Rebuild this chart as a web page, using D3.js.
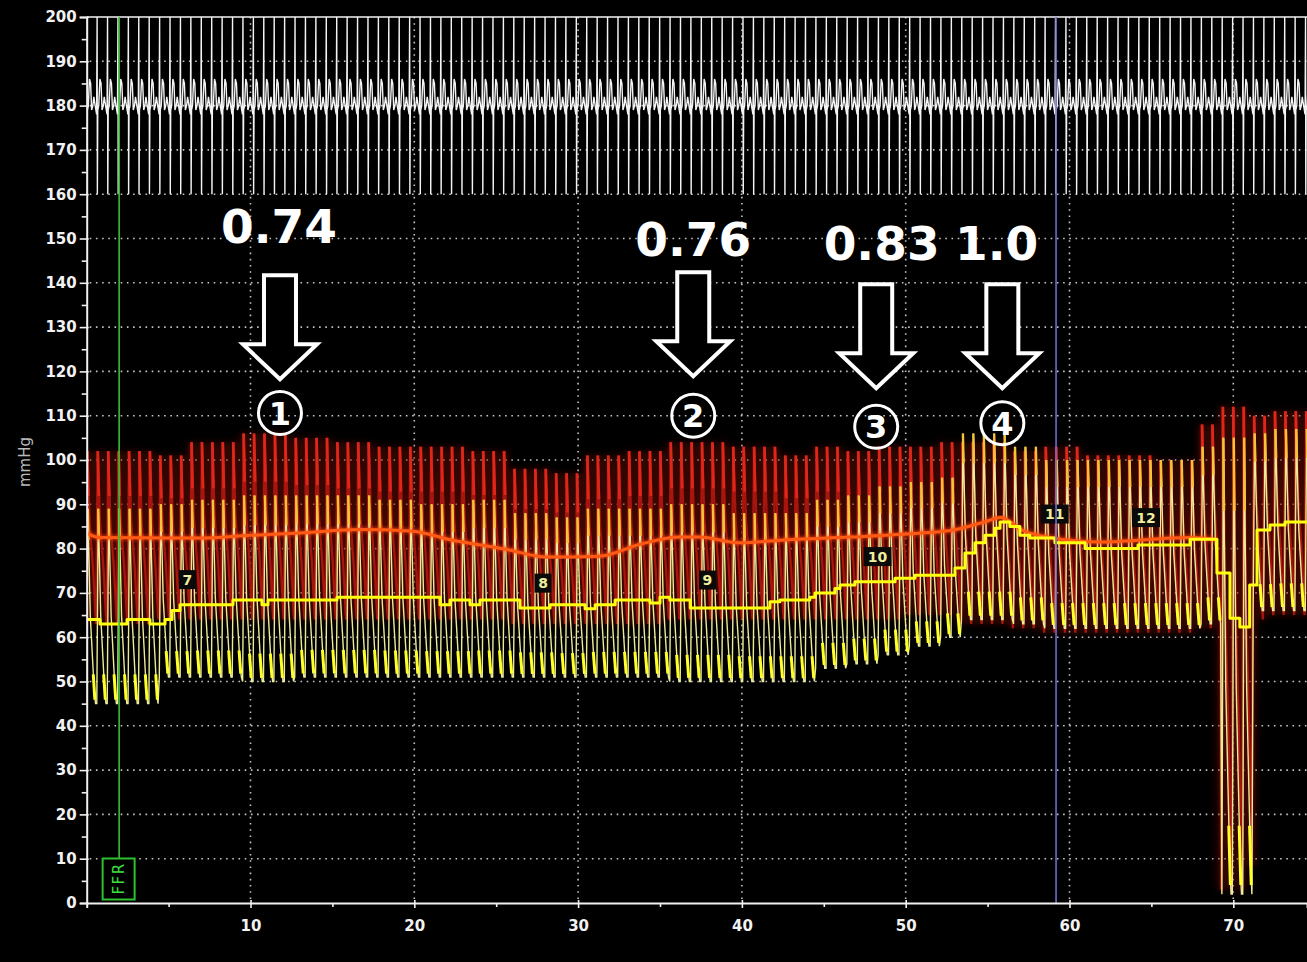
<!DOCTYPE html>
<html>
<head>
<meta charset="utf-8">
<script src="https://cdn.jsdelivr.net/npm/d3@7"></script>
<style>
  html, body { margin: 0; background: #000; }
  svg { display: block; }
</style>
</head>
<body>
<svg id="chart" width="1307" height="962"></svg>
<script>
// ---------------- recording data ----------------
// heart cycle length (s) and time of the first beat
const beatPeriod = 0.636;
const firstBeat = 0.0;

// beat-to-beat pressure levels, one value per recording segment (segment start, s)
const segStart = [0, 3.9, 6, 9.5, 12.5, 15, 17.5, 20, 23, 25.5, 28, 30.5, 33, 35, 39, 42, 44, 46, 48, 50, 52, 53.3, 56, 58, 61, 63, 65, 67.5, 68.8, 70.6, 72];
const paSys    = [102, 101, 104, 106, 105, 104, 103, 103, 102, 98, 97, 101, 102, 104, 103, 101, 103, 102, 103, 103, 104, 104, 102, 103, 101, 101, 100, 108, 112, 110, 111];
const paDia    = [63, 64, 64, 64, 64, 64, 64, 64, 64, 63, 63, 63, 63, 64, 64, 64, 64, 64, 64, 65, 65, 63, 62, 61, 61, 61, 61, 62, 3, 64, 65];
const pdSys    = [89, 90, 91, 92, 92, 92, 91, 90, 91, 88, 87, 89, 89, 90, 88, 88, 91, 92, 94, 95, 96, 106, 103, 100, 100, 100, 100, 103, 105, 106, 107];
const pdDia    = [45, 51, 51, 50, 51, 51, 51, 51, 51, 51, 51, 51, 51, 50, 50, 50, 53, 54, 56, 58, 60, 64, 63, 62, 62, 62, 62, 63, 2, 66, 66];

// mean distal pressure (Pd), stepwise
const pdMeanT = [0, 0.81, 2.46, 3.86, 4.78, 5.21, 5.70, 8.93, 10.70, 11.07, 15.28, 21.57, 22.18, 23.40, 24.01, 26.45,
                 28.29, 30.43, 31.04, 32.26, 34.39, 35.0, 35.6, 36.85, 41.71, 42.32, 44.15, 44.46, 45.68, 45.99, 46.90,
                 49.35, 50.57, 53.01, 53.62, 54.23, 54.84, 55.45, 55.76, 56.36, 56.97, 57.58, 59.11, 60.95, 64.18,
                 67.36, 69.0, 69.8, 70.4, 71.0, 71.45, 72.24, 73.16, 74.5];
const pdMean  = [64, 63, 64, 63, 64, 66, 67.3, 68.4, 67.3, 68.4, 69, 67.3, 68.4, 67.3, 68.4, 66.6,
                 67.3, 66.4, 67.3, 68.4, 67.7, 69, 68.4, 66.6, 68, 68.4, 69, 70, 71, 71.8, 72.5,
                 73.3, 74, 75.6, 79, 81.3, 83, 84.6, 86, 85, 83, 82.4, 81.3, 80, 80.8,
                 82.1, 74.5, 64.3, 62.3, 71.8, 84.2, 85.3, 86, 86];

// mean aortic pressure (Pa)
const paMeanT = [0, 0.8, 6.9, 10, 13, 16.7, 19.8, 22.2, 25.8, 28, 31.3, 33.8, 36.2, 37.4, 39.9, 42.8,
                 46.6, 50.9, 52.9, 54.8, 55.8, 57.2, 58.8, 61.9, 67.4, 69.0];
const paMean  = [83.5, 82.5, 82.4, 83, 83.5, 84.3, 84, 82, 79.7, 78.1, 78.3, 81, 82.6, 82.6, 81.3, 82,
                 82.6, 83.5, 84.2, 86, 87, 84, 82.5, 81.5, 82.5, 82];

// numbered event marks on the Pd mean trace
const eventLabels = ["7", "8", "9", "10", "11", "12"];
const eventT = [6.15, 27.86, 37.9, 48.28, 59.1, 64.67];
const eventV = [73, 72.2, 72.9, 78.2, 87.8, 87];

// FFR readings at the four pullback positions
const ffrLabels  = ["0.74", "0.76", "0.83", "1.0"];
const stepLabels = ["1", "2", "3", "4"];
const ffrT       = [11.74, 37.03, 48.53, 55.55];
const stepT      = [11.80, 37.03, 48.20, 55.90];

// cursors
const ffrCursorT = 1.98;
const endCursorT = 59.18;

// axis ticks
const yTickValues  = [0, 10, 20, 30, 40, 50, 60, 70, 80, 90, 100, 110, 120, 130, 140, 150, 160, 170, 180, 190, 200];
const yMinorValues = [5, 15, 25, 35, 45, 55, 65, 75, 85, 95, 105, 115, 125, 135, 145, 155, 165, 175, 185, 195];
const xTickValues  = [10, 20, 30, 40, 50, 60, 70];
const xMinorValues = [5, 15, 25, 35, 45, 55, 65];
const gridY = [10, 20, 30, 40, 50, 60, 70, 80, 90, 100, 110, 120, 130, 140, 150, 160, 170, 180, 190];
const gridX = [10, 20, 30, 40, 50, 60, 70];

// ---------------- drawing ----------------
const svg = d3.select("#chart");
const x = d3.scaleLinear().domain([0, 74.5]).range([86.7, 1307]);
const y = d3.scaleLinear().domain([0, 200]).range([903, 17]);
const x0 = x(0), x1 = x(74.5), yTop = y(200), yBot = y(0);

const defs = svg.append("defs");
defs.append("clipPath").attr("id", "plot")
  .append("rect").attr("x", x0).attr("y", yTop).attr("width", x1 - x0).attr("height", yBot - yTop);
defs.append("filter").attr("id", "glow").attr("x", "-5%").attr("y", "-5%").attr("width", "110%").attr("height", "110%")
  .append("feGaussianBlur").attr("stdDeviation", 1.8);
defs.append("filter").attr("id", "haze").attr("x", "-5%").attr("y", "-5%").attr("width", "110%").attr("height", "110%")
  .append("feGaussianBlur").attr("stdDeviation", 3.5);

svg.append("rect").attr("width", 1307).attr("height", 962).attr("fill", "#000");

// dotted grid
const grid = svg.append("g")
  .attr("stroke", "#e8e8e8").attr("stroke-width", 1.6)
  .attr("stroke-dasharray", "1.6 4.6").attr("opacity", 0.85);
grid.selectAll("line.gh").data(gridY).join("line").attr("class", "gh")
  .attr("x1", x0 + 3).attr("x2", x1).attr("y1", d => y(d)).attr("y2", d => y(d));
grid.selectAll("line.gv").data(gridX).join("line").attr("class", "gv")
  .attr("x1", d => x(d)).attr("x2", d => x(d)).attr("y1", yTop).attr("y2", yBot - 3);

const plot = svg.append("g").attr("clip-path", "url(#plot)");

const beatTimes = d3.range(firstBeat, 74.5 + beatPeriod, beatPeriod);
const segOf = t => Math.max(0, d3.bisectRight(segStart, t) - 1);
const line = d3.line().x(d => x(d[0])).y(d => y(d[1]));

// aortic (Pa) pulse trace
const paPts = [], paCaps = [];
beatTimes.forEach(t => {
  const i = segOf(t), s = paSys[i], d = paDia[i], a = s - d, o = t - 0.06;
  paPts.push([o, d], [o + 0.1, s], [o + 0.24, d + 0.58 * a], [o + 0.45, d + 0.32 * a], [o + 0.6, d + 0.05 * a]);
  paCaps.push([[o + 0.1, s], [o + 0.16, s - 0.26 * a]]);
});
plot.append("path").attr("d", line(paPts)).attr("fill", "none")
  .attr("stroke", "#7a1006").attr("stroke-width", 7).attr("opacity", 0.55).attr("filter", "url(#haze)");
plot.append("path").attr("d", line(paPts)).attr("fill", "none")
  .attr("stroke", "#a8150e").attr("stroke-width", 2.3);
plot.append("g").selectAll("path").data(paCaps).join("path")
  .attr("d", line).attr("fill", "none").attr("stroke", "#e0261a").attr("stroke-width", 2.8);

// distal (Pd) pulse trace
const pdPts = [], pdPeaks = [], pdFeet = [];
beatTimes.forEach(t => {
  const i = segOf(t), s = pdSys[i], d = pdDia[i], a = s - d, o = t - 0.02;
  pdPts.push([o, d], [o + 0.09, s], [o + 0.24, d + 0.45 * a], [o + 0.47, d + 0.08 * a], [o + 0.56, d]);
  pdPeaks.push([[o + 0.09, s], [o + 0.13, s - 0.16 * a]]);
  pdFeet.push([[o + 0.42, d + 0.15 * a], [o + 0.52, d + 0.02 * a]]);
});
plot.append("path").attr("d", line(pdPts)).attr("fill", "none")
  .attr("stroke", "#ecec98").attr("stroke-width", 1.4);
plot.append("g").selectAll("path").data(pdPeaks).join("path")
  .attr("d", line).attr("fill", "none").attr("stroke", "#f4c435").attr("stroke-width", 2.4);
plot.append("g").selectAll("path").data(pdFeet).join("path")
  .attr("d", line).attr("fill", "none").attr("stroke", "#ffff2a").attr("stroke-width", 3);

// mean pressures
const paMeanPts = paMeanT.map((t, i) => [t, paMean[i]]);
const pdMeanPts = pdMeanT.map((t, i) => [t, pdMean[i]]);
const smooth = d3.line().curve(d3.curveMonotoneX).x(d => x(d[0])).y(d => y(d[1]));
const step = d3.line().curve(d3.curveStepAfter).x(d => x(d[0])).y(d => y(d[1]));
plot.append("path").attr("d", smooth(paMeanPts)).attr("fill", "none")
  .attr("stroke", "#ff4a10").attr("stroke-width", 6).attr("opacity", 0.5).attr("filter", "url(#glow)");
plot.append("path").attr("d", smooth(paMeanPts)).attr("fill", "none")
  .attr("stroke", "#ff5a14").attr("stroke-width", 3);
plot.append("path").attr("d", step(pdMeanPts)).attr("fill", "none")
  .attr("stroke", "#ffff10").attr("stroke-width", 3).attr("stroke-linejoin", "round");

// event marks
const ev = plot.append("g").selectAll("g").data(eventLabels).join("g")
  .attr("transform", (d, i) => `translate(${x(eventT[i])},${y(eventV[i])})`);
ev.append("rect").attr("x", d => -(d.length * 5.5 + 3)).attr("y", -9.5)
  .attr("width", d => d.length * 11 + 6).attr("height", 19).attr("fill", "#0a0a0a");
ev.append("text").text(d => d).attr("text-anchor", "middle").attr("dy", "0.36em")
  .attr("font-family", "DejaVu Sans, Verdana, sans-serif").attr("font-weight", "bold")
  .attr("font-size", 14).attr("fill", "#eeee9c");

// ECG trace in the 160-200 band
const ecgPts = [];
beatTimes.forEach(s => {
  ecgPts.push([s - 0.26, 180], [s - 0.2, 182], [s - 0.12, 180], [s - 0.03, 178], [s, 205],
              [s + 0.015, 155], [s + 0.04, 179], [s + 0.1, 180], [s + 0.17, 186], [s + 0.24, 185], [s + 0.3, 179]);
});
const ecgLine = d3.line().x(d => x(d[0])).y(d => y(Math.max(160, Math.min(200, d[1]))));
plot.append("path").attr("d", ecgLine(ecgPts)).attr("fill", "none")
  .attr("stroke", "#f4f4f4").attr("stroke-width", 1.4);
svg.append("line").attr("x1", x0).attr("x2", x1).attr("y1", yTop).attr("y2", yTop)
  .attr("stroke", "#f4f4f4").attr("stroke-width", 1.5);

// cursors
svg.append("line").attr("x1", x(endCursorT)).attr("x2", x(endCursorT)).attr("y1", yTop).attr("y2", yBot)
  .attr("stroke", "#6c6cd0").attr("stroke-width", 1.6);
svg.append("line").attr("x1", x(ffrCursorT)).attr("x2", x(ffrCursorT)).attr("y1", yTop).attr("y2", 858)
  .attr("stroke", "#36c036").attr("stroke-width", 1.6);
const ffrTag = svg.append("g").attr("transform", `translate(${x(ffrCursorT) - 0.5},878.5)`);
ffrTag.append("rect").attr("x", -16).attr("y", -20).attr("width", 32).attr("height", 41)
  .attr("fill", "#000").attr("stroke", "#2fc02f").attr("stroke-width", 2);
ffrTag.append("text").text("FFR").attr("transform", "rotate(-90)").attr("text-anchor", "middle")
  .attr("dy", "0.36em").attr("font-family", "DejaVu Sans, sans-serif").attr("font-size", 15)
  .attr("letter-spacing", 1.5).attr("fill", "#3ee03e");

// axes
const axisFont = g => g.selectAll("text")
  .attr("font-family", "DejaVu Sans, Verdana, sans-serif").attr("font-weight", "bold")
  .attr("font-size", 15).attr("fill", "#f2f2f2");
const yAxis = svg.append("g").attr("transform", `translate(${x0},0)`)
  .call(d3.axisLeft(y).tickValues(yTickValues).tickSize(7).tickPadding(3));
yAxis.call(axisFont);
svg.append("g").attr("transform", `translate(${x0},0)`)
  .call(d3.axisLeft(y).tickValues(yMinorValues).tickSize(5).tickFormat(""))
  .call(g => g.select(".domain").remove());
const xAxis = svg.append("g").attr("transform", `translate(0,${yBot})`)
  .call(d3.axisBottom(x).tickValues(xTickValues).tickSize(5).tickPadding(12));
xAxis.call(axisFont);
svg.append("g").attr("transform", `translate(0,${yBot})`)
  .call(d3.axisBottom(x).tickValues(xMinorValues).tickSize(4).tickFormat(""))
  .call(g => g.select(".domain").remove());
svg.selectAll(".domain").attr("stroke", "#f0f0f0").attr("stroke-width", 2);
svg.selectAll(".tick line").attr("stroke", "#f0f0f0").attr("stroke-width", 1.6);
// ticks cross the axis lines slightly
yAxis.selectAll(".tick line").attr("x2", -7).attr("x1", 2);
xAxis.selectAll(".tick line").attr("y1", -3);

svg.append("text").text("mmHg").attr("transform", "translate(25,462) rotate(-90)")
  .attr("text-anchor", "middle").attr("dy", "0.36em")
  .attr("font-family", "DejaVu Sans, Verdana, sans-serif").attr("font-size", 15).attr("fill", "#b8b8b8");

// FFR annotations: value, hollow arrow, circled step number
const labelV  = [149.0, 146.0, 145.1, 145.1];
const arrowTopV = [141.7, 142.4, 139.7, 139.7];
const circleV = [110.6, 110.0, 107.5, 108.3];
const ann = svg.append("g");
ann.selectAll("text.ffr").data(ffrLabels).join("text").attr("class", "ffr")
  .text(d => d).attr("x", (d, i) => x(ffrT[i])).attr("y", (d, i) => y(labelV[i]))
  .attr("text-anchor", "middle").attr("font-family", "DejaVu Sans, Verdana, sans-serif")
  .attr("font-weight", "bold").attr("font-size", 47).attr("fill", "#fff");
ann.selectAll("path.arrow").data(stepT).join("path").attr("class", "arrow")
  .attr("d", (t, i) => {
    const cx = x(t), top = y(arrowTopV[i]), head = top + 69, tip = top + 104;
    return `M${cx - 16},${top}H${cx + 16}V${head}H${cx + 37}L${cx},${tip}L${cx - 37},${head}H${cx - 16}Z`;
  })
  .attr("fill", "#000").attr("stroke", "#fff").attr("stroke-width", 4).attr("stroke-linejoin", "miter");
const circ = ann.selectAll("g.step").data(stepLabels).join("g").attr("class", "step")
  .attr("transform", (d, i) => `translate(${x(stepT[i])},${y(circleV[i])})`);
circ.append("circle").attr("r", 21.5).attr("fill", "none").attr("stroke", "#fff").attr("stroke-width", 3);
circ.append("text").text(d => d).attr("text-anchor", "middle").attr("dy", "0.36em")
  .attr("font-family", "DejaVu Sans, Verdana, sans-serif").attr("font-weight", "bold")
  .attr("font-size", 32).attr("fill", "#fff");
</script>
</body>
</html>
